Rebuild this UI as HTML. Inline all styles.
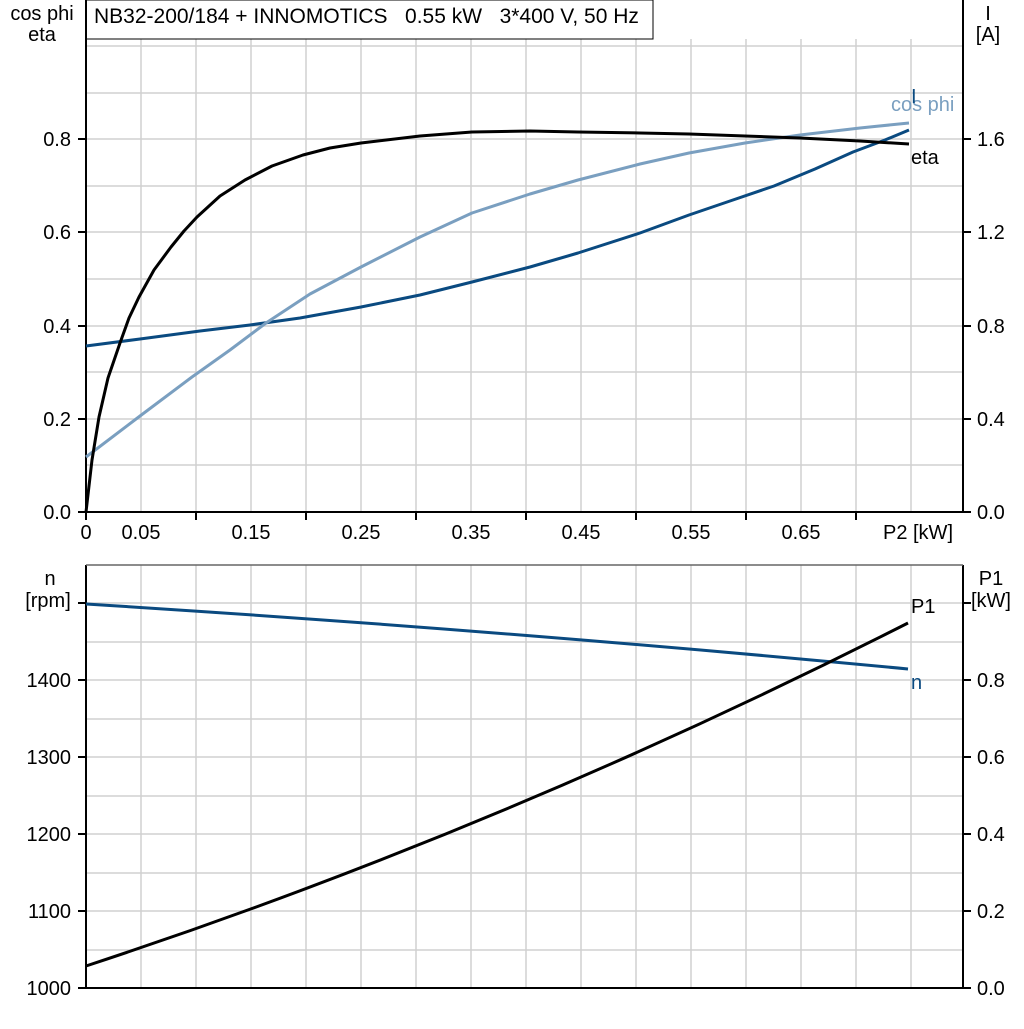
<!DOCTYPE html><html><head><style>body{margin:0;background:#fff}svg{font-family:"Liberation Sans",Arial,sans-serif}</style></head><body>
<svg width="1024" height="1024" viewBox="0 0 1024 1024" xmlns="http://www.w3.org/2000/svg">
<g stroke="#d0d0d0" stroke-width="1.5">
<line x1="86" y1="46" x2="963" y2="46"/><line x1="86" y1="93" x2="963" y2="93"/><line x1="86" y1="139" x2="963" y2="139"/><line x1="86" y1="186" x2="963" y2="186"/><line x1="86" y1="232" x2="963" y2="232"/><line x1="86" y1="279" x2="963" y2="279"/><line x1="86" y1="326" x2="963" y2="326"/><line x1="86" y1="372" x2="963" y2="372"/><line x1="86" y1="419" x2="963" y2="419"/><line x1="86" y1="465" x2="963" y2="465"/>
<line x1="86" y1="603" x2="963" y2="603"/><line x1="86" y1="642" x2="963" y2="642"/><line x1="86" y1="680" x2="963" y2="680"/><line x1="86" y1="719" x2="963" y2="719"/><line x1="86" y1="757" x2="963" y2="757"/><line x1="86" y1="796" x2="963" y2="796"/><line x1="86" y1="834" x2="963" y2="834"/><line x1="86" y1="873" x2="963" y2="873"/><line x1="86" y1="911" x2="963" y2="911"/><line x1="86" y1="950" x2="963" y2="950"/>
<path d="M141 39V512M196 39V512M251 39V512M306 39V512M361 39V512M416 39V512M471 39V512M526 39V512M581 39V512M636 39V512M691 39V512M746 39V512M801 39V512M856 39V512M911 39V512"/>
<path d="M141 565V988M196 565V988M251 565V988M306 565V988M361 565V988M416 565V988M471 565V988M526 565V988M581 565V988M636 565V988M691 565V988M746 565V988M801 565V988M856 565V988M911 565V988"/>
</g>
<rect x="86" y="0" width="567" height="39" fill="#fff" stroke="#000" stroke-width="1"/>
<text x="94" y="23" font-size="21">NB32-200/184 + INNOMOTICS &#160; 0.55 kW &#160; 3*400 V, 50 Hz</text>
<g stroke="#000" stroke-width="2" fill="none">
<path d="M86 0V512H963V0"/>
<path d="M86 565V988H963V565"/>
<line x1="86" y1="565" x2="963" y2="565" stroke="#666" stroke-width="1.5"/>
<path d="M78 139H86M78 232H86M78 326H86M78 419H86M78 512H86M963 139H971M963 232H971M963 326H971M963 419H971M963 512H971"/>
<path d="M86 512V520M196 512V520M306 512V520M416 512V520M526 512V520M636 512V520M746 512V520M856 512V520"/>
<path d="M78 603H86M78 680H86M78 757H86M78 834H86M78 911H86M78 988H86M963 603H971M963 680H971M963 757H971M963 834H971M963 911H971M963 988H971"/>
</g>
<g font-size="20" text-anchor="end">
<text x="71" y="146">0.8</text><text x="71" y="239">0.6</text><text x="71" y="333">0.4</text><text x="71" y="426">0.2</text><text x="71" y="519">0.0</text>
<text x="71" y="687">1400</text><text x="71" y="764">1300</text><text x="71" y="841">1200</text><text x="71" y="918">1100</text><text x="71" y="995">1000</text>
</g>
<g font-size="20" text-anchor="start">
<text x="977" y="146">1.6</text><text x="977" y="239">1.2</text><text x="977" y="333">0.8</text><text x="977" y="426">0.4</text><text x="977" y="519">0.0</text>
<text x="977" y="687">0.8</text><text x="977" y="764">0.6</text><text x="977" y="841">0.4</text><text x="977" y="918">0.2</text><text x="977" y="995">0.0</text>
</g>
<g font-size="20" text-anchor="middle">
<text x="86" y="539">0</text><text x="141" y="539">0.05</text><text x="251" y="539">0.15</text><text x="361" y="539">0.25</text><text x="471" y="539">0.35</text><text x="581" y="539">0.45</text><text x="691" y="539">0.55</text><text x="801" y="539">0.65</text><text x="918" y="539">P2 [kW]</text>
<text x="42" y="20">cos phi</text><text x="42" y="41">eta</text>
<text x="988" y="20">I</text><text x="988" y="41">[A]</text>
<text x="50" y="585">n</text><text x="48" y="607">[rpm]</text>
<text x="991" y="585">P1</text><text x="991" y="607">[kW]</text>
</g>
<g fill="none" stroke-width="3" stroke-linejoin="round">
<polyline points="86,346 140,339 200,331 250,325 300,318 361,307 420,295 472,282 530,267 578,253 640,233 689,215 730,201 774,186 815,169 853,152 885,140 909,130" stroke="#0a4a80"/>
<polyline points="86,457 140,416 192,377 230,350 266,323 310,294 361,267 420,237 472,213 530,194 578,180 640,164 689,153 745,143 800,135 860,128 909,123" stroke="#7a9fc0"/>
<polyline points="86,512 92,460 99,417 108,378 120,343 129,318 139,297 154,270 171,247 184,231 197,217 220,196 245,180 272,166 303,155 330,148 361,143 420,136 472,132 530,131 578,132 640,133 689,134 745,136 800,138 860,141 909,144" stroke="#000"/>
<path d="M86 604Q500 630 908 669" stroke="#0a4a80"/>
<path d="M86 966Q500 830 908 623" stroke="#000"/>
</g>
<text x="891" y="111" font-size="20" fill="#7a9fc0">cos phi</text>
<text x="911" y="103" font-size="20" fill="#0a4a80">I</text>
<text x="911" y="164" font-size="20">eta</text>
<text x="911" y="613" font-size="20">P1</text>
<text x="911" y="689" font-size="20" fill="#0a4a80">n</text>
</svg></body></html>
